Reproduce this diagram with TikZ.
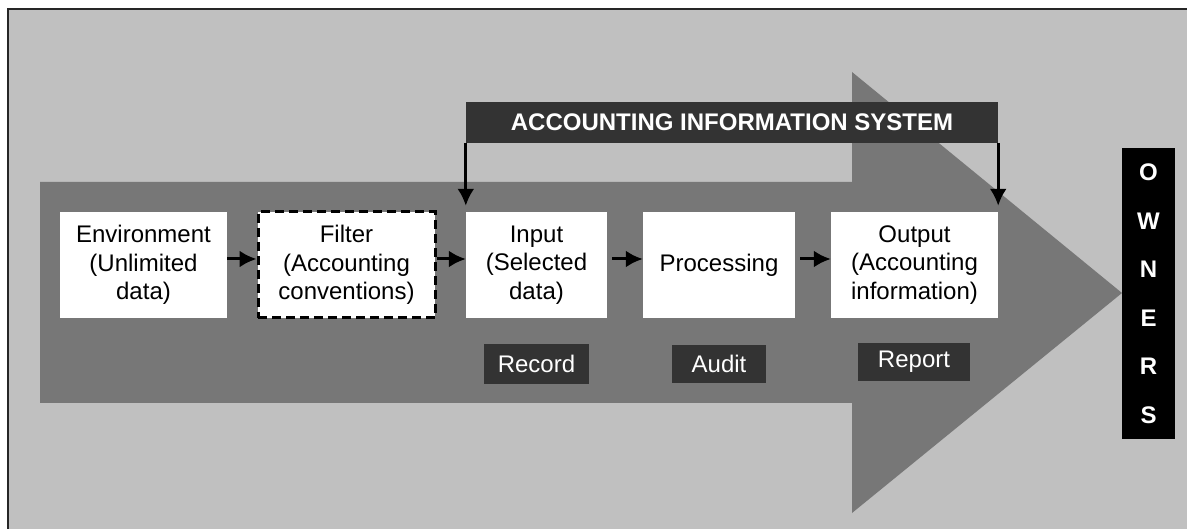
\documentclass[tikz,border=0pt]{standalone}
\usepackage{fontspec}
\setmainfont{Liberation Sans}
\usetikzlibrary{arrows.meta}
\definecolor{bggray}{HTML}{C0C0C0}
\definecolor{arrgray}{HTML}{777777}
\definecolor{darkbox}{HTML}{333333}

\begin{document}
\begin{tikzpicture}[x=1pt,y=-1pt,font=\fontsize{24}{28.5}\selectfont]
        \useasboundingbox (0,0) rectangle (1187,529);
        \fill[bggray] (8,9) rectangle (1187,529);
        \draw[line width=1.5pt,black!85] (8,529) -- (8,9) -- (1187,9);
        \fill[arrgray] (40,182) -- (852,182) -- (852,72) -- (1122,293) -- (852,513) -- (852,403) -- (40,403) -- cycle;
        \tikzset{boite/.style={fill=white,align=center,inner sep=0pt,minimum height=106pt}}
        \tikzset{etiq/.style={fill=darkbox,text=white,inner sep=0pt}}
        \node[boite,minimum width=167pt] (ENV) at (143.5,265) {Environment\\(Unlimited\\data)};
        \node[boite,minimum width=177pt,draw=black,line width=3pt,dash pattern=on 9pt off 5pt] (FIL) at (346.5,265) {Filter\\(Accounting\\conventions)};
        \node[boite,minimum width=141pt] (INP) at (536.5,265) {Input\\(Selected\\data)};
        \node[boite,minimum width=152pt] (PRO) at (719,265) {Processing};
        \node[boite,minimum width=167pt] (OUT) at (914.5,265) {Output\\(Accounting\\information)};
        \node[etiq,minimum width=532pt,minimum height=41pt,font=\fontsize{24}{28.5}\selectfont\bfseries] (AIS) at (732,122.5) {ACCOUNTING INFORMATION SYSTEM};
        \node[etiq,minimum width=105pt,minimum height=40pt] (REC) at (536.5,364) {Record};
        \node[etiq,minimum width=94pt,minimum height=38pt] (AUD) at (719,364) {Audit};
        \node[etiq,minimum width=112pt,minimum height=38pt] (REP) at (914,362) {Report};
        \node[fill=black,text=white,align=center,inner sep=0pt,minimum width=53pt,minimum height=291pt,font=\fontsize{24}{48.5}\selectfont\bfseries] (OWN) at (1148.5,293.5) {O\\W\\N\\E\\R\\S};
        \tikzset{fleche/.style={-{Latex[length=17pt,width=17pt]},line width=3pt}}
        \draw[fleche] ([yshift=6pt]ENV.east) -- ([yshift=6pt]FIL.west);
        \draw[fleche] ([yshift=6pt]FIL.east) -- ([yshift=6pt]INP.west);
        \draw[fleche,shorten <=5pt] ([yshift=6pt]INP.east) -- ([yshift=6pt]PRO.west);
        \draw[fleche,shorten <=5pt] ([yshift=6pt]PRO.east) -- ([yshift=6pt]OUT.west);
        \draw[fleche,shorten >=6pt] (AIS.south west) -- (INP.north west);
        \draw[fleche,shorten >=6pt] (AIS.south east) -- (OUT.north east);
\end{tikzpicture}
\end{document}
